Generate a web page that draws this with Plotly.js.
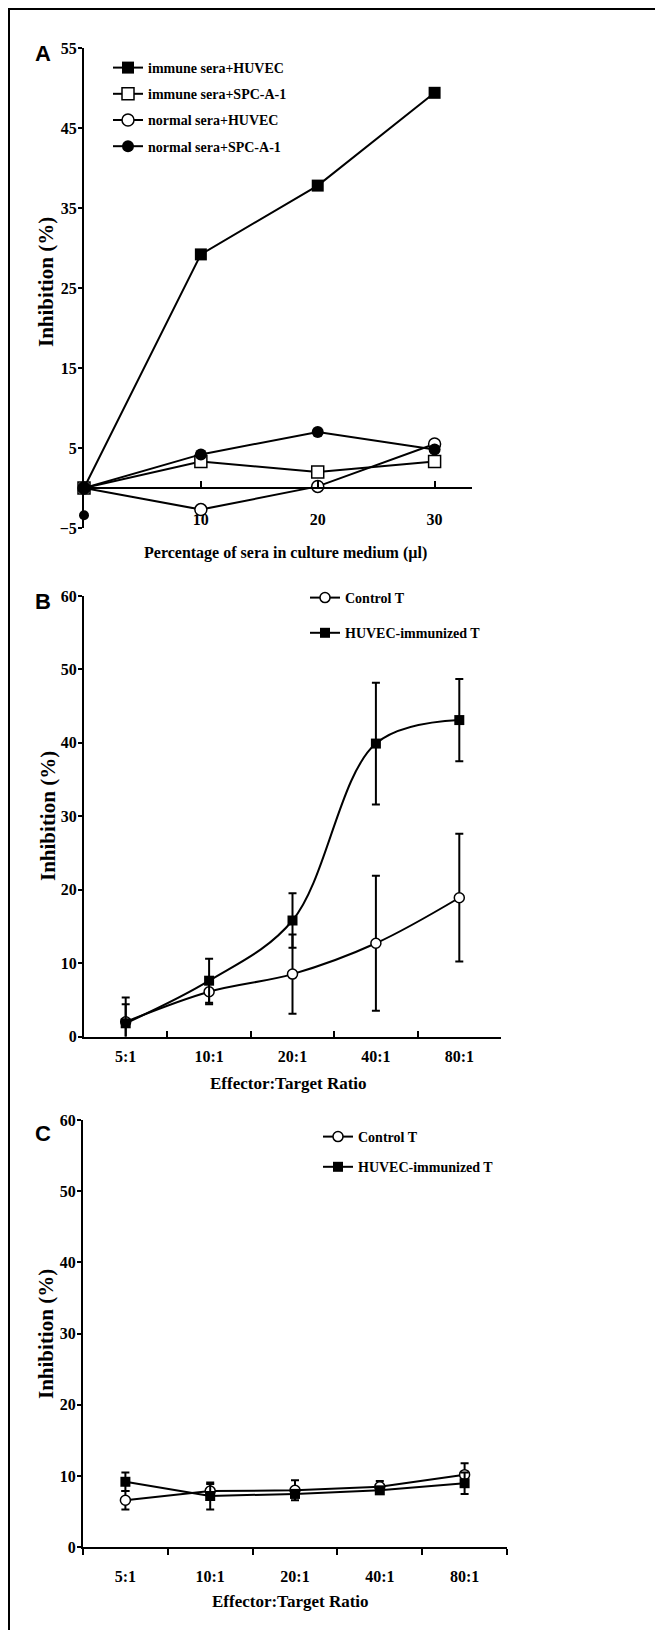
<!DOCTYPE html>
<html>
<head>
<meta charset="utf-8">
<script src="https://cdn.plot.ly/plotly-3.0.1.min.js"></script>
<style>html,body{margin:0;padding:0;background:#fff;}#chart{width:655px;height:1630px;}</style>
</head>
<body>
<div id="chart"></div>
<script>
// ---- Panel A data ----
const seraPct = [0, 10, 20, 30];
const immuneHUVEC = [0, 29.2, 37.8, 49.4];
const immuneSPC = [0, 3.3, 2.0, 3.3];
const normalHUVEC = [0, -2.7, 0.2, 5.5];
const normalSPC = [0, 4.2, 7.0, 4.8];
const strayX = [0];
const strayY = [-3.4];
const aTickVals = [10, 20, 30];
const aYTicks = [-5, 5, 15, 25, 35, 45, 55];

// ---- Panel B / C data ----
const ratios = ['5:1', '10:1', '20:1', '40:1', '80:1'];
const bControl = [2.0, 6.1, 8.5, 12.7, 18.9];
const bControlErr = [2.4, 1.7, 5.4, 9.2, 8.7];
const bHuvec = [1.8, 7.6, 15.8, 39.9, 43.1];
const bHuvecErr = [3.5, 3.0, 3.7, 8.3, 5.6];
const cControl = [6.6, 7.9, 8.0, 8.5, 10.2];
const cControlErr = [1.3, 1.0, 1.4, 0.8, 1.6];
const cHuvec = [9.2, 7.2, 7.5, 8.0, 9.0];
const cHuvecErr = [1.3, 1.9, 0.5, 0.4, 1.5];

const W = 655, H = 1630;
const px = v => v / W;
const py = v => 1 - v / H;
const SERIF = 'Liberation Serif, Times New Roman, serif';
const SANS = 'Liberation Sans, Arial, sans-serif';
const tickFont = {family: SERIF, size: 16, color: '#000', weight: 'bold'};
const legFont = {family: SERIF, size: 14, color: '#000', weight: 'bold'};

function errCfg(arr) {
  return {type: 'data', array: arr, visible: true, color: '#000', thickness: 2, width: 4};
}

const traces = [
  // Panel A
  {x: seraPct, y: immuneHUVEC, name: 'immune sera+HUVEC', mode: 'lines+markers', xaxis: 'x', yaxis: 'y',
   line: {color: '#000', width: 2}, marker: {symbol: 'square', size: 12, color: '#000'},
   legend: 'legend', legendgroup: 'a1', cliponaxis: false},
  {x: seraPct, y: immuneSPC, name: 'immune sera+SPC-A-1', mode: 'lines+markers', xaxis: 'x', yaxis: 'y',
   line: {color: '#000', width: 2}, marker: {symbol: 'square', size: 12, color: '#fff', line: {color: '#000', width: 1.5}},
   legend: 'legend', legendgroup: 'a2', cliponaxis: false},
  {x: seraPct, y: normalHUVEC, name: 'normal sera+HUVEC', mode: 'lines+markers', xaxis: 'x', yaxis: 'y',
   line: {color: '#000', width: 2}, marker: {symbol: 'circle', size: 12, color: '#fff', line: {color: '#000', width: 1.5}},
   legend: 'legend', legendgroup: 'a3', cliponaxis: false},
  {x: seraPct, y: normalSPC, name: 'normal sera+SPC-A-1', mode: 'lines+markers', xaxis: 'x', yaxis: 'y',
   line: {color: '#000', width: 2}, marker: {symbol: 'circle', size: 12, color: '#000'},
   legend: 'legend', legendgroup: 'a4', cliponaxis: false},
  {x: strayX, y: strayY, mode: 'markers', xaxis: 'x', yaxis: 'y', showlegend: false,
   marker: {symbol: 'circle', size: 10, color: '#000'}, cliponaxis: false},
  // Panel B
  {x: ratios, y: bControl, name: 'Control T', mode: 'lines+markers', xaxis: 'x2', yaxis: 'y2',
   line: {color: '#000', width: 2, shape: 'spline', smoothing: 1}, error_y: errCfg(bControlErr),
   marker: {symbol: 'circle', size: 10, color: '#fff', line: {color: '#000', width: 1.5}},
   legend: 'legend2', legendgroup: 'b1', cliponaxis: false},
  {x: ratios, y: bHuvec, name: 'HUVEC-immunized T', mode: 'lines+markers', xaxis: 'x2', yaxis: 'y2',
   line: {color: '#000', width: 2, shape: 'spline', smoothing: 1}, error_y: errCfg(bHuvecErr),
   marker: {symbol: 'square', size: 10, color: '#000'},
   legend: 'legend2', legendgroup: 'b2', cliponaxis: false},
  // Panel C
  {x: ratios, y: cControl, name: 'Control T', mode: 'lines+markers', xaxis: 'x3', yaxis: 'y3',
   line: {color: '#000', width: 2}, error_y: errCfg(cControlErr),
   marker: {symbol: 'circle', size: 10, color: '#fff', line: {color: '#000', width: 1.5}},
   legend: 'legend3', legendgroup: 'c1', cliponaxis: false},
  {x: ratios, y: cHuvec, name: 'HUVEC-immunized T', mode: 'lines+markers', xaxis: 'x3', yaxis: 'y3',
   line: {color: '#000', width: 2}, error_y: errCfg(cHuvecErr),
   marker: {symbol: 'square', size: 10, color: '#000'},
   legend: 'legend3', legendgroup: 'c2', cliponaxis: false}
];

const yBase = {showline: true, linecolor: '#000', linewidth: 2, ticks: 'outside', ticklen: 4, tickwidth: 2,
  tickcolor: '#000', showgrid: false, zeroline: false, tickfont: tickFont, fixedrange: true, ticklabelstandoff: -2};
const catX = {type: 'category', categoryorder: 'array', categoryarray: ratios, range: [-0.5, 4.5],
  showline: true, linecolor: '#000', linewidth: 2, tickson: 'boundaries', ticklen: 6, tickwidth: 2,
  tickcolor: '#000', showgrid: false, zeroline: false, tickfont: tickFont};

function ann(text, x, y, size, family, angle) {
  return {text: text, x: px(x), y: py(y), xref: 'paper', yref: 'paper', showarrow: false,
    xanchor: 'center', yanchor: 'middle', textangle: angle || 0,
    font: {family: family, size: size, weight: 'bold', color: '#000'}};
}

const layout = {
  width: W, height: H,
  margin: {l: 0, r: 0, t: 0, b: 0},
  paper_bgcolor: '#fff', plot_bgcolor: 'rgba(0,0,0,0)',
  showlegend: true,
  // Panel A axes
  xaxis: {domain: [px(84), px(472)], range: [0, 33.2], anchor: 'free', position: py(488),
    showline: true, linecolor: '#000', linewidth: 2, ticks: 'inside', ticklen: 6, tickwidth: 2, tickcolor: '#000',
    tickvals: aTickVals, ticktext: aTickVals.map(String), ticklabelstandoff: 17,
    showgrid: false, zeroline: false, tickfont: tickFont},
  yaxis: Object.assign({}, yBase, {domain: [py(528), py(48)], range: [-5, 55], tickvals: aYTicks, anchor: 'x'}),
  // Panel B axes
  xaxis2: Object.assign({}, catX, {domain: [px(84), px(501)], anchor: 'y2', ticks: 'inside', ticklabelstandoff: 4}),
  yaxis2: Object.assign({}, yBase, {domain: [py(1036.5), py(596)], range: [0, 60], dtick: 10, anchor: 'x2'}),
  // Panel C axes
  xaxis3: Object.assign({}, catX, {domain: [px(83), px(507)], anchor: 'y3', ticks: 'outside', ticklabelstandoff: 13}),
  yaxis3: Object.assign({}, yBase, {domain: [py(1547.3), py(1120)], range: [0, 60], dtick: 10, anchor: 'x3'}),
  legend: {x: px(108), y: py(52), xanchor: 'left', yanchor: 'top', bgcolor: 'rgba(0,0,0,0)',
    font: legFont, traceorder: 'grouped', tracegroupgap: 5, itemclick: false},
  legend2: {x: px(305), y: py(582), xanchor: 'left', yanchor: 'top', bgcolor: 'rgba(0,0,0,0)',
    font: legFont, traceorder: 'grouped', tracegroupgap: 14, itemclick: false},
  legend3: {x: px(318), y: py(1121), xanchor: 'left', yanchor: 'top', bgcolor: 'rgba(0,0,0,0)',
    font: legFont, traceorder: 'grouped', tracegroupgap: 9, itemclick: false},
  annotations: [
    ann('A', 43, 53, 22, SANS),
    ann('B', 43, 601, 22, SANS),
    ann('C', 43, 1133, 22, SANS),
    ann('Inhibition (%)', 46, 282, 21, SERIF, -90),
    ann('Inhibition (%)', 48, 816, 21, SERIF, -90),
    ann('Inhibition (%)', 46, 1334, 21, SERIF, -90),
    ann('Percentage of sera in culture medium (\u00b5l)', 285, 553, 16, SERIF),
    ann('Effector:Target Ratio', 288, 1083, 17, SERIF),
    ann('Effector:Target Ratio', 290, 1601, 17, SERIF)
  ],
  shapes: [
    {type: 'rect', xref: 'paper', yref: 'paper', x0: px(9), x1: px(700), y0: py(1700), y1: py(9),
     line: {color: '#000', width: 2}, layer: 'below'}
  ]
};

Plotly.newPlot('chart', traces, layout, {staticPlot: true, displayModeBar: false});
</script>
</body>
</html>
